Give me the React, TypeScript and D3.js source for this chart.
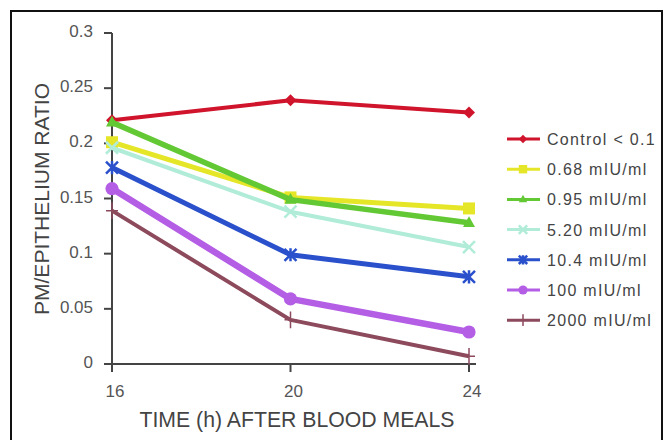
import React from "react";
import * as d3 from "d3";

const hours = [16, 20, 24];
const yTicks = [0, 0.05, 0.1, 0.15, 0.2, 0.25, 0.3];
const seriesNames = [
  "Control < 0.1",
  "0.68 mIU/ml",
  "0.95 mIU/ml",
  "5.20 mIU/ml",
  "10.4 mIU/ml",
  "100 mIU/ml",
  "2000 mIU/ml",
];
const control = [0.221, 0.239, 0.228];
const s068 = [0.201, 0.151, 0.141];
const s095 = [0.219, 0.149, 0.128];
const s520 = [0.196, 0.138, 0.106];
const s104 = [0.178, 0.099, 0.079];
const s100 = [0.159, 0.059, 0.029];
const s2000 = [0.139, 0.04, 0.007];
const seriesValues = [control, s068, s095, s520, s104, s100, s2000];
const colors = ["#d0142c", "#e6e628", "#62c834", "#b0ecd8", "#2a50cc", "#b45ee6", "#8c4a5c"];
const markers = ["diamond", "square", "triangle", "x", "asterisk", "circle", "plus"];
const widths = [4, 5, 5.5, 4, 5, 6.5, 4];

const W = 665, H = 440;
const x = d3.scaleLinear().domain([16, 24]).range([112, 469]);
const y = d3.scaleLinear().domain([0, 0.3]).range([364, 33]);

function Marker({ kind, cx, cy, color, s = 1 }: any) {
  const r = 6 * s;
  switch (kind) {
    case "diamond":
      return <path d={`M${cx},${cy - r}L${cx + r},${cy}L${cx},${cy + r}L${cx - r},${cy}Z`} fill={color} />;
    case "square":
      return <rect x={cx - r} y={cy - r} width={2 * r} height={2 * r} fill={color} />;
    case "triangle":
      return <path d={`M${cx},${cy - r * 1.1}L${cx + r},${cy + r * 0.7}L${cx - r},${cy + r * 0.7}Z`} fill={color} />;
    case "x":
      return (
        <path d={`M${cx - r},${cy - r}L${cx + r},${cy + r}M${cx - r},${cy + r}L${cx + r},${cy - r}`} stroke={color} strokeWidth={2.5} />
      );
    case "asterisk":
      return (
        <path
          d={`M${cx - r},${cy - r}L${cx + r},${cy + r}M${cx - r},${cy + r}L${cx + r},${cy - r}M${cx},${cy - r * 1.1}L${cx},${cy + r * 1.1}`}
          stroke={color}
          strokeWidth={2.5}
        />
      );
    case "circle":
      return <circle cx={cx} cy={cy} r={r * 1.1} fill={color} />;
    case "plus":
      return <path d={`M${cx - r},${cy}L${cx + r},${cy}M${cx},${cy - r * 1.4}L${cx},${cy + r * 1.4}`} stroke={color} strokeWidth={1.5} />;
  }
  return null;
}

export default function App() {
  const line = d3
    .line<number>()
    .x((_, i) => x(hours[i]))
    .y((d) => y(d));
  const font = "Liberation Sans, Arial, sans-serif";
  return (
    <svg width={W} height={H} style={{ position: "absolute", left: 0, top: 0, background: "#fff" }} fontFamily={font}>
      <rect x={0} y={0} width={W} height={H} fill="#fff" />
      <rect x={11} y={11} width={651} height={440} fill="none" stroke="#111" strokeWidth={2} />
      {/* axes */}
      <g stroke="#444" strokeWidth={2}>
        <line x1={112} x2={112} y1={33} y2={372} />
        <line x1={104} x2={476} y1={364} y2={364} />
        {yTicks.map((t) => (
          <line key={t} x1={104} x2={112} y1={y(t)} y2={y(t)} />
        ))}
        {hours.map((h) => (
          <line key={h} x1={x(h)} x2={x(h)} y1={364} y2={372} />
        ))}
      </g>
      {yTicks.map((t) => (
        <text key={t} x={93} y={y(t) + 4} textAnchor="end" fontSize={17} fill="#555">
          {t === 0 ? "0" : String(t)}
        </text>
      ))}
      {hours.map((h) => (
        <text key={h} x={x(h) + 3} y={397} textAnchor="middle" fontSize={17} fill="#555">
          {h}
        </text>
      ))}
      <text x={297} y={427} textAnchor="middle" fontSize={21.5} fill="#444" textLength={315} lengthAdjust="spacingAndGlyphs">
        TIME (h) AFTER BLOOD MEALS
      </text>
      <text
        transform="translate(49,199) rotate(-90)"
        textAnchor="middle"
        fontSize={21}
        fill="#444"
        textLength={232}
        lengthAdjust="spacingAndGlyphs"
      >
        PM/EPITHELIUM RATIO
      </text>
      {/* series */}
      {seriesValues.map((vals, si) => (
        <g key={si}>
          <path d={line(vals) || ""} fill="none" stroke={colors[si]} strokeWidth={widths[si]} strokeLinejoin="round" />
          {vals.map((v, i) => (
            <Marker key={i} kind={markers[si]} cx={x(hours[i])} cy={y(v)} color={colors[si]} />
          ))}
        </g>
      ))}
      {/* legend */}
      <svg x={0} y={0} width={661} height={H} overflow="hidden">
        {seriesNames.map((n, i) => {
          const ly = 139 + i * 30.2;
          return (
            <g key={n}>
              <line x1={507} x2={540} y1={ly} y2={ly} stroke={colors[i]} strokeWidth={3} />
              <Marker kind={markers[i]} cx={523} cy={ly} color={colors[i]} s={0.7} />
              <text x={547} y={ly + 6} fontSize={16} letterSpacing={1.3} fill="#444">
                {n}
              </text>
            </g>
          );
        })}
      </svg>
    </svg>
  );
}
